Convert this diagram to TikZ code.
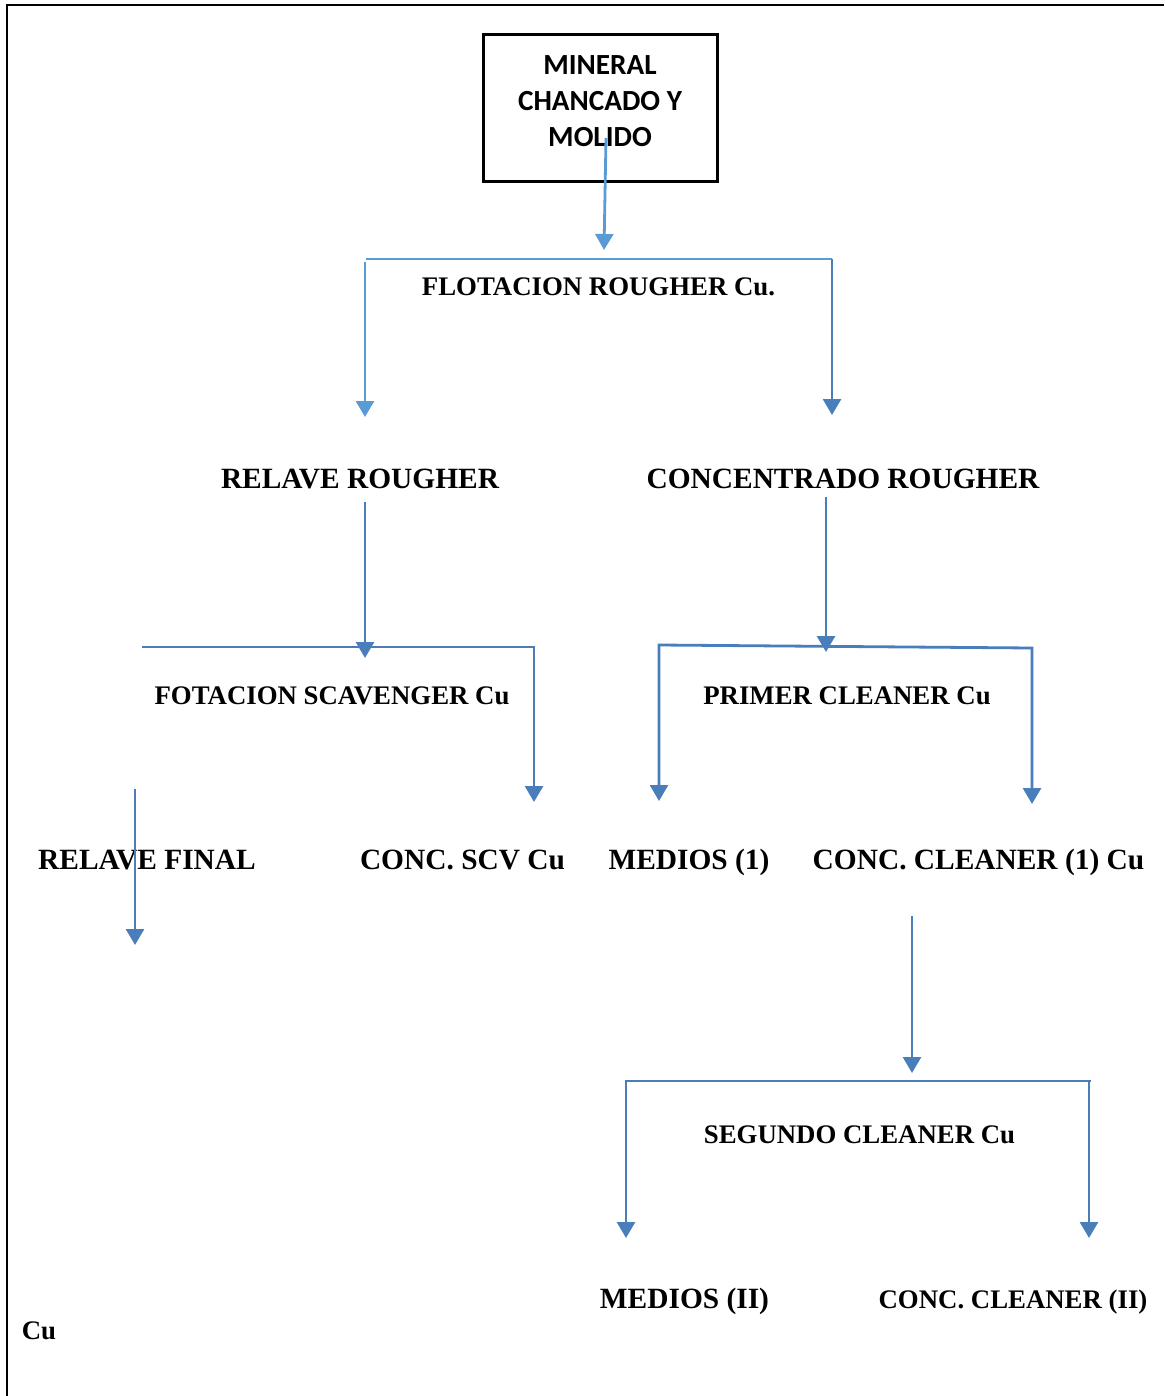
\documentclass[tikz,border=0pt]{standalone}
\usepackage{fontspec}
\setmainfont{Liberation Serif}
\newfontfamily\boxfont{Carlito}
\usetikzlibrary{arrows.meta}
\definecolor{blueA}{HTML}{4A7EBB}
\definecolor{blueL}{HTML}{5B9BD5}
\tikzset{
  lbl/.style={anchor=base, inner sep=0pt, font=\fontsize{29.4}{34}\selectfont\bfseries},
  slbl/.style={anchor=base, inner sep=0pt, font=\fontsize{26.8}{31}\selectfont\bfseries},
  flow/.style={draw=blueA, line width=2.8pt},
  flowL/.style={draw=blueL, line width=2.8pt},
  tip/.tip={Triangle[width=18pt,length=16pt]},
}
\begin{document}
\begin{tikzpicture}[x=1pt,y=-1pt]
\useasboundingbox (0,0) rectangle (1164,1396);
% frame
\draw[line width=2.4pt] (7,1396) -- (7,5) -- (1164,5);
% top box
\node[draw, line width=3pt, minimum width=234pt, minimum height=147pt, inner sep=0pt] (box) at (600,108.5) {};
\node[inner sep=0pt, align=center, font=\boxfont\fontsize{29.2}{36}\selectfont\bfseries] (boxtxt) at (600,101.5) {MINERAL\\CHANCADO Y\\MOLIDO};
% labels
\node[slbl] (flot) at (598.5,296) {FLOTACION ROUGHER Cu.};
\node[lbl] (relR) at (360,488) {RELAVE ROUGHER};
\node[lbl] (conR) at (843,488) {CONCENTRADO ROUGHER};
\node[slbl] (scav) at (332,704) {FOTACION SCAVENGER Cu};
\node[slbl] (prim) at (847,704) {PRIMER CLEANER Cu};
\node[lbl] (relF) at (147,869) {RELAVE FINAL};
\node[lbl] (scv) at (462.5,869) {CONC. SCV Cu};
\node[lbl] (med1) at (689,869) {MEDIOS (1)};
\node[lbl] (cc1) at (978.5,869) {CONC. CLEANER (1) Cu};
\node[slbl] (seg) at (859.5,1143) {SEGUNDO CLEANER Cu};
\node[lbl] (med2) at (684.5,1308) {MEDIOS (II)};
\node[slbl] (cc2) at (1013,1308) {CONC. CLEANER (II)};
\node[slbl] (cu) at (39,1339) {Cu};
% coordinates
\coordinate (a0s) at (606,138);   \coordinate (a0e) at (604,250);
\coordinate (b1l) at (366,259);   \coordinate (b1r) at (832,259);
\coordinate (b1ls) at (365,262);  \coordinate (b1le) at (365,417);
\coordinate (b1re) at (832,415);
\coordinate (a2s) at (365,502);   \coordinate (a2e) at (365,658);
\coordinate (b2l) at (142,647);   \coordinate (b2r) at (534,647);
\coordinate (b2re) at (534,802);
\coordinate (a3s) at (826,497);   \coordinate (a3e) at (826,652);
\coordinate (b3le) at (659,801);  \coordinate (b3l) at (659,645);
\coordinate (b3r) at (1032,648);  \coordinate (b3re) at (1032,804);
\coordinate (a4s) at (135,789);   \coordinate (a4e) at (135,945);
\coordinate (a5s) at (912,916);   \coordinate (a5e) at (912,1073);
\coordinate (b4le) at (626,1238); \coordinate (b4l) at (626,1081);
\coordinate (b4r) at (1091,1081);
\coordinate (b4rs) at (1089,1081); \coordinate (b4re) at (1089,1238);
% connectors
\draw[flowL,-tip] (a0s) -- (a0e);
\draw[flowL] (b1l) -- (b1r);
\draw[flowL,-tip] (b1ls) -- (b1le);
\draw[flow,-tip] (b1r) -- (b1re);
\draw[flow,-tip] (a2s) -- (a2e);
\draw[flow,-tip] (b2l) -- (b2r) -- (b2re);
\draw[flow,-tip] (a3s) -- (a3e);
\draw[flow,tip-tip] (b3le) -- (b3l) -- (b3r) -- (b3re);
\draw[flow,-tip] (a4s) -- (a4e);
\draw[flow,-tip] (a5s) -- (a5e);
\draw[flow,tip-] (b4le) -- (b4l) -- (b4r);
\draw[flow,-tip] (b4rs) -- (b4re);
\end{tikzpicture}
\end{document}
